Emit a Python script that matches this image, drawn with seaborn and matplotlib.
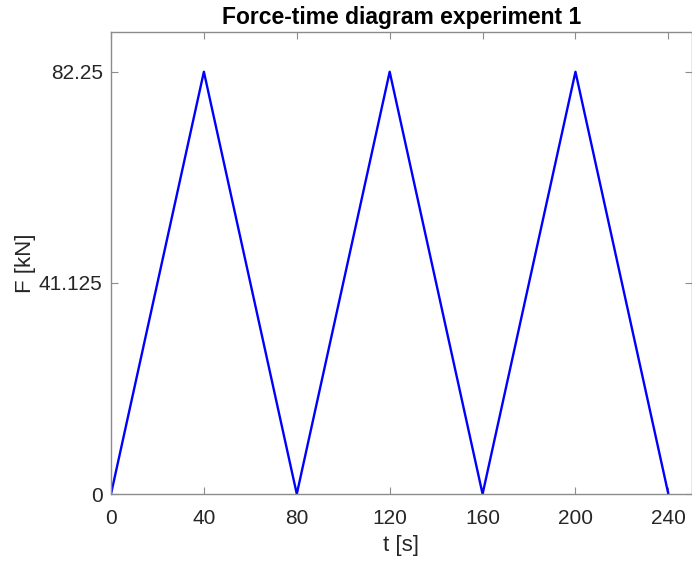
import matplotlib
matplotlib.use("Agg")
import matplotlib.pyplot as plt
import seaborn as sns
import pandas as pd

# data
time_s = [0, 40, 80, 120, 160, 200, 240]
force_kn = [0, 82.25, 0, 82.25, 0, 82.25, 0]
x_ticks = [0, 40, 80, 120, 160, 200, 240]
y_ticks = [0, 41.125, 82.25]
y_tick_labels = ["0", "41.125", "82.25"]

sns.set_theme(style="white")
plt.rcParams["font.family"] = ["Liberation Sans", "DejaVu Sans"]

df = pd.DataFrame({"t": time_s, "F": force_kn})

fig = plt.figure(figsize=(6.92, 5.61), dpi=100)
ax = fig.add_axes([0.1604, 0.1194, 0.8390, 0.8236])

sns.lineplot(data=df, x="t", y="F", ax=ax, color="#0000ff", linewidth=1.7)

ax.set_xlim(0, 250)
ax.set_ylim(0, 90)
ax.set_xticks(x_ticks)
ax.set_xticklabels([str(v) for v in x_ticks])
ax.set_yticks(y_ticks)
ax.set_yticklabels(y_tick_labels)

grey = "#262626"
for s in ax.spines.values():
    s.set_color("#8c8c8c")
    s.set_linewidth(1.0)
ax.tick_params(axis="both", direction="in", length=5, width=0.8, color="#8c8c8c",
               labelsize=15, labelcolor=grey, top=True, right=True,
               bottom=True, left=True)
ax.tick_params(axis="y", pad=6)
ax.tick_params(axis="x", pad=11)

ax.set_xlabel("t [s]", fontsize=16, color=grey, labelpad=5)
ax.set_ylabel("F [kN]", fontsize=16, color=grey, labelpad=2)
ax.set_title("Force-time diagram experiment 1", fontsize=16.5, fontweight="bold",
             color="black", pad=6)

fig.savefig("out.png", dpi=100)
